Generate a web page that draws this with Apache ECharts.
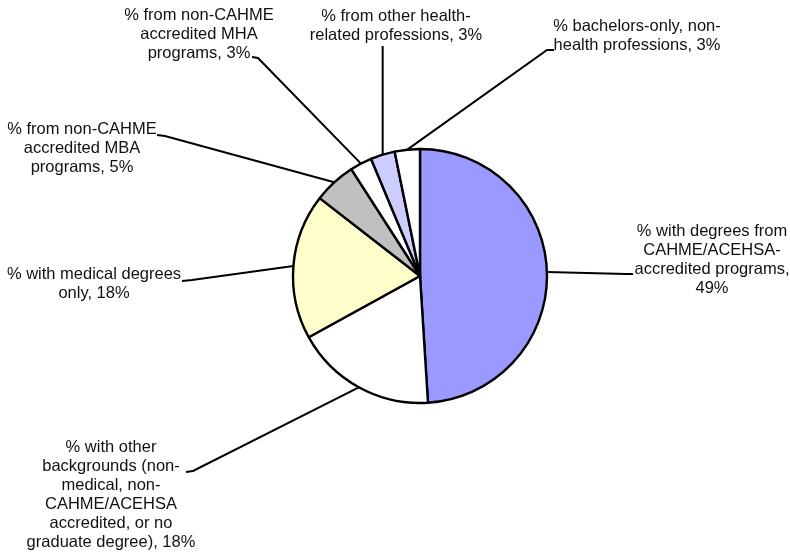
<!DOCTYPE html>
<html>
<head>
<meta charset="utf-8">
<script src="https://cdn.jsdelivr.net/npm/echarts@6/dist/echarts.min.js"></script>
<style>html,body{margin:0;padding:0;background:#fff}#c{width:790px;height:554px}</style>
</head>
<body>
<div id="c"></div>
<script>
// Categories (label text, as broken in the original)
const categories = [
  "% with degrees from\nCAHME/ACEHSA-\naccredited programs",
  "% with other\nbackgrounds (non-\nmedical, non-\nCAHME/ACEHSA\naccredited, or no\ngraduate degree)",
  "% with medical degrees\nonly",
  "% from non-CAHME\naccredited MBA\nprograms",
  "% from non-CAHME\naccredited MHA\nprograms",
  "% from other health-\nrelated professions",
  "% bachelors-only, non-\nhealth professions"
];
// Slice sizes
const values = [49.0, 18.0, 18.5, 5.4, 2.8, 3.1, 3.2];
// Percentages printed in the labels
const pctLabels = [49, 18, 18, 5, 3, 3, 3];

// Styles / layout (not data)
const colors = ['#9999ff', '#ffffff', '#ffffcc', '#c0c0c0', '#ffffff', '#ccccff', '#ffffff'];
const seps = [',\n', ', ', ', ', ', ', ', ', ', ', ', '];
const labelPos = [
  {x: 712, y: 222, p1: [626, 274], p2: [633, 274]},
  {x: 111, y: 438, p1: [193, 471], p2: [186, 472]},
  {x: 94,  y: 265, p1: [192, 280], p2: [182, 281]},
  {x: 82,  y: 120, p1: [165, 136], p2: [157, 135]},
  {x: 199, y: 6,   p1: [258, 58],  p2: [252, 57]},
  {x: 396, y: 7,   p1: null,       p2: null, vertical: 46},
  {x: 637, y: 17,  p1: [547, 50],  p2: [554, 50]}
];

const data = categories.map((c, i) => ({
  name: c,
  value: values[i],
  itemStyle: {color: colors[i]}
}));

const chart = echarts.init(document.getElementById('c'), null, {renderer: 'canvas'});
chart.setOption({
  animation: false,
  backgroundColor: '#ffffff',
  series: [{
    type: 'pie',
    center: [420, 276],
    radius: 127,
    startAngle: 90,
    clockwise: true,
    avoidLabelOverlap: false,
    silent: true,
    data: data,
    itemStyle: {borderColor: '#000', borderWidth: 2.4},
    label: {
      show: true,
      position: 'outside',
      formatter: p => p.name + seps[p.dataIndex] + pctLabels[p.dataIndex] + '%',
      fontFamily: 'Liberation Sans, Arial, sans-serif',
      fontSize: 16.5,
      lineHeight: 19,
      color: '#111',
      align: 'center'
    },
    labelLine: {
      show: true,
      length: 20,
      length2: 10,
      lineStyle: {color: '#000', width: 2}
    },
    labelLayout: function (params) {
      const lp = labelPos[params.dataIndex];
      const res = {x: lp.x, y: lp.y, align: 'center', verticalAlign: 'top'};
      if (params.labelLinePoints && params.labelLinePoints.length) {
        const s = params.labelLinePoints[0];
        if (lp.vertical != null) {
          res.labelLinePoints = [s, [s[0], lp.vertical + 2], [s[0], lp.vertical]];
        } else {
          res.labelLinePoints = [s, lp.p1, lp.p2];
        }
      }
      return res;
    }
  }]
});
</script>
</body>
</html>
